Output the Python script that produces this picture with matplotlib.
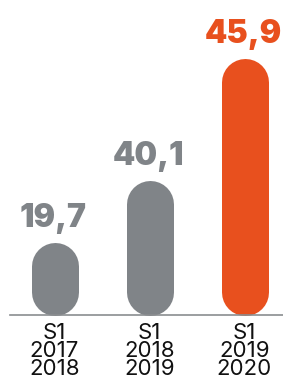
import matplotlib
matplotlib.use("Agg")
import matplotlib.pyplot as plt

# half-year periods and their reported values
periods = ["S1\n2017\n2018", "S1\n2018\n2019", "S1\n2019\n2020"]
values = [19.7, 40.1, 45.9]
# drawn heights are not to scale in the original (px)
heights = [73, 135, 257]
colors = ["#808488", "#808488", "#E8501E"]

W, H, DPI = 283, 383, 100
fig = plt.figure(figsize=(W / DPI, H / DPI), dpi=DPI)
ax = fig.add_axes([0, 0, 1, 1])
ax.set_xlim(-54.5 / 95, (W - 54.5) / 95)
ax.set_ylim(-68, H - 68)
ax.axis("off")

bar_w = 47  # px
r = bar_w / 2
lw_pt = bar_w * 72 / DPI
for i, (h, v, c) in enumerate(zip(heights, values, colors)):
    ax.plot([i, i], [r, h - r], color=c, lw=lw_pt, solid_capstyle="round")
    ax.annotate(f"{v:.1f}".replace(".", ","), (i, h), xytext=(-1, 11),
                textcoords="offset points", ha="center", va="baseline",
                fontsize=23, fontweight="black", family="Inter", color=c)
    ax.text(i, -8, periods[i], ha="center", va="top", fontsize=16,
            family="Inter", color="#111111", linespacing=0.88)

ax.axhline(0, xmin=10 / W, xmax=1, color="#8a8d90", lw=1.2)

fig.savefig("out.png", dpi=DPI)
